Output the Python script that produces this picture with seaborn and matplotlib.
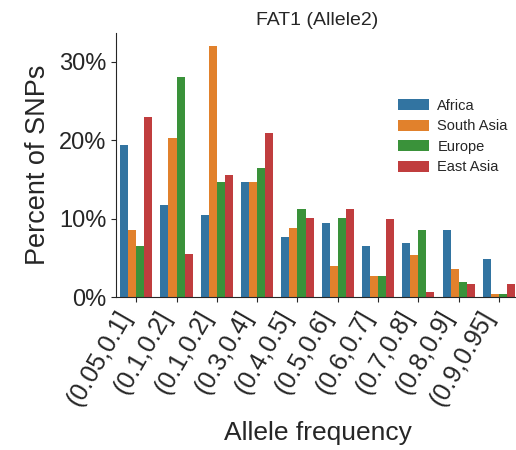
import matplotlib
matplotlib.use("Agg")
import matplotlib.pyplot as plt
import numpy as np
import pandas as pd
import seaborn as sns

# allele frequency bins (labels as printed on the chart)
bins = ["(0.05,0.1]", "(0.1,0.2]", "(0.1,0.2]", "(0.3,0.4]", "(0.4,0.5]",
        "(0.5,0.6]", "(0.6,0.7]", "(0.7,0.8]", "(0.8,0.9]", "(0.9,0.95]"]
regions = ["Africa", "South Asia", "Europe", "East Asia"]

# percent of SNPs per bin
africa     = [19.4, 11.8, 10.5, 14.7, 7.6, 9.5, 6.5, 6.9, 8.5, 4.9]
south_asia = [8.5, 20.3, 32.0, 14.7, 8.8, 4.0, 2.7, 5.3, 3.6, 0.4]
europe     = [6.5, 28.1, 14.7, 16.4, 11.2, 10.1, 2.7, 8.5, 1.9, 0.4]
east_asia  = [23.0, 5.5, 15.6, 20.9, 10.1, 11.2, 9.9, 0.6, 1.7, 1.7]

rows = []
for reg, vals in zip(regions, [africa, south_asia, europe, east_asia]):
    for i, v in enumerate(vals):
        rows.append({"bin": i, "region": reg, "pct": v})
df = pd.DataFrame(rows)

sns.set_style("ticks")
plt.rcParams['font.family'] = ['Liberation Sans', 'DejaVu Sans']

fig = plt.figure(figsize=(5.16, 4.5), dpi=100)
ax = fig.add_axes([0.225, 0.34, 0.781, 0.587])

sns.barplot(data=df, x="bin", y="pct", hue="region", hue_order=regions,
            palette="tab10", saturation=0.75, linewidth=0,
            ax=ax, errorbar=None)

ax.set_xticks(range(len(bins)))
ax.set_xticklabels(bins, rotation=60, ha="right", fontsize=18)
ax.tick_params(axis="y", labelsize=17)
ax.set_yticks([0, 10, 20, 30])
ax.set_yticklabels(["0%", "10%", "20%", "30%"])
ax.set_xlim(-0.5, 9.5)
ax.set_ylim(0, 33.7)

ax.set_xlabel("Allele frequency", fontsize=19, labelpad=8)
ax.set_ylabel("Percent of SNPs", fontsize=19.5, labelpad=6)
ax.set_title("FAT1 (Allele2)", fontsize=14)
sns.despine(ax=ax)

ax.legend(loc="center left", bbox_to_anchor=(0.685, 0.608), frameon=False,
          fontsize=10.5, handlelength=2.1, handleheight=0.78, labelspacing=0.45,
          handletextpad=0.6, borderaxespad=0)

fig.savefig("out.png", dpi=100)
